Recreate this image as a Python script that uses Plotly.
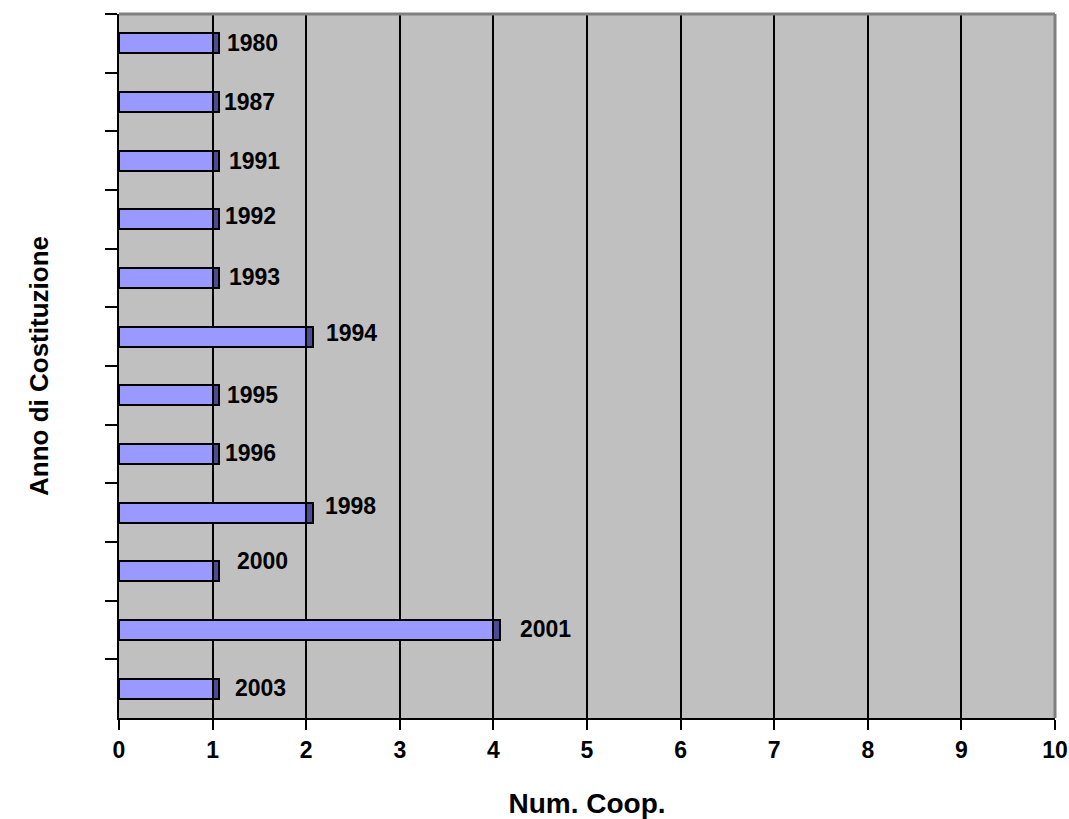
import plotly.graph_objects as go

# Cooperatives by founding year
years = ["1980", "1987", "1991", "1992", "1993", "1994",
         "1995", "1996", "1998", "2000", "2001", "2003"]
num_coop = [1, 1, 1, 1, 1, 2, 1, 1, 2, 1, 4, 1]

# depth of the pseudo-3D side face of each bar (in axis units)
DEPTH = 0.07
# pixel nudges for the year labels placed right of each bar
label_dx = [6, 3, 8, 4, 8, 11, 6, 4, 10, 16, 18, 14]
label_dy = [0, 0, 0, 3, 1, 4, 0, 1, 7, 10, 1, 1]

FONT = "Liberation Sans, Arial, sans-serif"
BAR_FACE = "#9999FF"
BAR_SIDE = "#4B4B96"

fig = go.Figure()

# front face of the bars
fig.add_trace(go.Bar(
    y=years, x=num_coop, orientation="h", width=0.34,
    marker=dict(color=BAR_FACE, line=dict(color="black", width=2)),
    hoverinfo="x+y", showlegend=False,
))
# darker side face sitting at the end of each bar
fig.add_trace(go.Bar(
    y=years, x=[DEPTH] * len(years), base=num_coop, orientation="h", width=0.34,
    marker=dict(color=BAR_SIDE, line=dict(color="black", width=2)),
    hoverinfo="skip", showlegend=False,
))

# year labels; positioned by category index so numeric-looking names
# are not mistaken for axis coordinates
for i, (yr, v, dx, dy) in enumerate(zip(years, num_coop, label_dx, label_dy)):
    fig.add_annotation(
        x=v + DEPTH, y=i, text=yr, showarrow=False,
        xanchor="left", yanchor="middle", xshift=dx, yshift=dy,
        font=dict(family=FONT, size=23, color="black", weight="bold"),
    )

# grey wall edges on top and right of the plotting area
fig.add_shape(type="line", xref="paper", yref="paper", x0=0, x1=1, y0=1, y1=1,
              line=dict(color="#808080", width=3), layer="above")
fig.add_shape(type="line", xref="paper", yref="paper", x0=1, x1=1, y0=0, y1=1,
              line=dict(color="#808080", width=3), layer="above")

fig.update_layout(
    width=1069, height=819,
    margin=dict(l=119, r=14, t=14, b=101),
    paper_bgcolor="white", plot_bgcolor="#C0C0C0",
    barmode="overlay", bargap=0,
    font=dict(family=FONT, color="black"),
    xaxis=dict(
        range=[0, 10], dtick=1, tick0=0, automargin=False,
        showgrid=True, gridcolor="black", gridwidth=2,
        zeroline=False,
        showline=True, linecolor="black", linewidth=2,
        ticks="outside", ticklen=10, tickwidth=2, tickcolor="black",
        tickfont=dict(family=FONT, size=23, color="black", weight="bold"),
        title=dict(text="Num. Coop.", standoff=34,
                   font=dict(family=FONT, size=28, color="black", weight="bold")),
    ),
    yaxis=dict(
        type="category", categoryorder="array", categoryarray=years,
        range=[len(years) - 0.5, -0.5], automargin=False,
        showgrid=False, zeroline=False,
        showticklabels=False, tickson="boundaries",
        ticks="outside", ticklen=12, tickwidth=2, tickcolor="black",
        showline=True, linecolor="black", linewidth=2,
        title=dict(text="Anno di Costituzione", standoff=61,
                   font=dict(family=FONT, size=26, color="black", weight="bold")),
    ),
)

fig.write_html("out.html")
